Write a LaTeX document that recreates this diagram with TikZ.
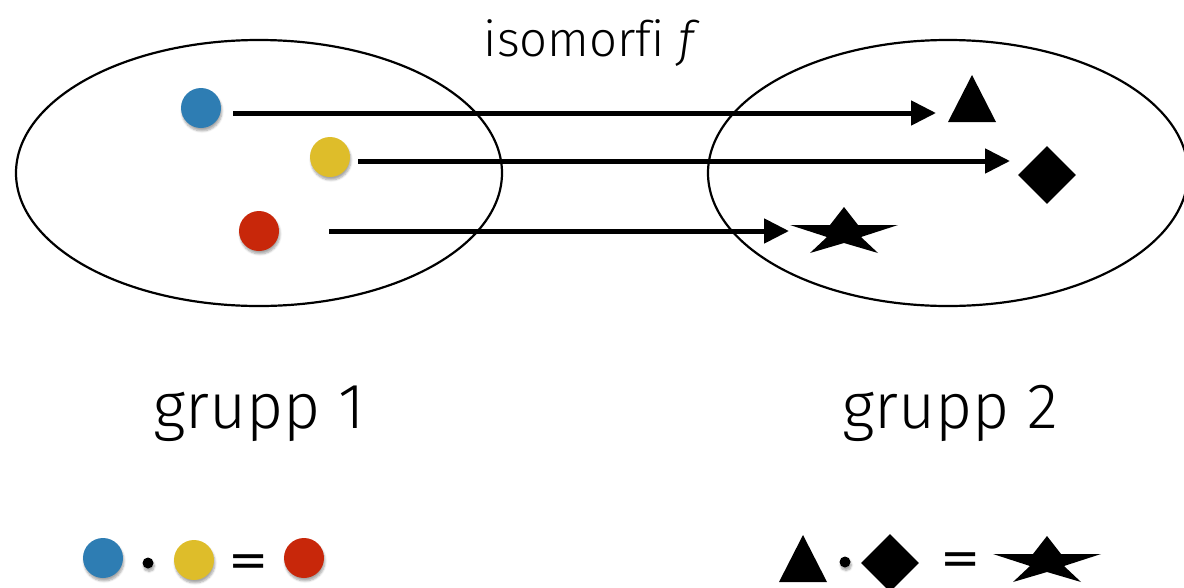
\documentclass[tikz,border=0pt]{standalone}
\usepackage{fontspec}
\setmainfont{Fira Sans}[UprightFont=* Light, ItalicFont=* Light Italic, Ligatures=NoCommon]
\newfontfamily\eqfont{DejaVu Sans}
\usetikzlibrary{arrows.meta,shapes.geometric,shadows.blur}
\definecolor{dblue}{HTML}{2E7DB3}
\definecolor{dyellow}{HTML}{DEBD2A}
\definecolor{dred}{HTML}{C8270A}
\begin{document}
\begin{tikzpicture}[x=1pt,y=-1pt,
  dot/.style={circle,fill=#1,minimum size=40pt,inner sep=0pt,
    blur shadow={shadow xshift=1pt,shadow yshift=-3pt,shadow blur steps=6,shadow opacity=35}},
  smalldot/.style={circle,fill=black,minimum size=11pt,inner sep=0pt,
    blur shadow={shadow xshift=1pt,shadow yshift=-3pt,shadow blur steps=6,shadow opacity=35}},
  arr/.style={line width=5pt,-{Triangle[length=25pt,width=24pt]}},
  grp/.style={draw,line width=2.2pt},
  dia/.style={diamond,fill=black,inner sep=0pt,minimum width=58pt,minimum height=58pt},
  lbl/.style={font=\fontsize{64}{70}\selectfont,anchor=base},
  eq/.style={font=\eqfont\fontsize{48}{54}\selectfont,inner sep=0pt},
  tri/.pic={\fill (0,0) -- (24,47) -- (-24,47) -- cycle;},
  starpic/.pic={\fill (0,0) -- (14,18) -- (54,18) -- (17,30) -- (34,46) -- (0,36)
      -- (-34,46) -- (-17,30) -- (-54,18) -- (-14,18) -- cycle;}
]
\useasboundingbox (0,0) rectangle (1184,587);

% groups
\draw[grp] (259,173) ellipse [x radius=243, y radius=133];
\draw[grp] (948,173) ellipse [x radius=240, y radius=133];

% title
\node[font=\fontsize{49}{54}\selectfont,anchor=base] (title) at (592,56) {isomorfi \textit{f}};

% group 1 elements
\node[dot=dblue]   (b1) at (201,108) {};
\node[dot=dyellow] (y1) at (330,157) {};
\node[dot=dred]    (r1) at (259,231) {};

% group 2 elements
\pic at (972,75) {tri};
\node[dia] (d2) at (1047,175) {};
\pic at (844,207) {starpic};

% arrows
\coordinate (a1s) at (233,113);
\coordinate (a1e) at (936,113);
\coordinate (a2s) at (358,161);
\coordinate (a2e) at (1010,161);
\coordinate (a3s) at (329,231);
\coordinate (a3e) at (789,231);
\draw[arr] (a1s) -- (a1e);
\draw[arr] (a2s) -- (a2e);
\draw[arr] (a3s) -- (a3e);

% labels
\node[lbl] (g1) at (259,428) {grupp 1};
\node[lbl] (g2) at (950,428) {grupp 2};

% bottom left equation
\node[dot=dblue]   (eb) at (103,558) {};
\node[smalldot]    (ed) at (148,563) {};
\node[dot=dyellow] (ey) at (194,560) {};
\node[eq]          (eq1) at (249,566) {=};
\node[dot=dred]    (er) at (304,558) {};

% bottom right equation
\pic at (803,535) {tri};
\node[smalldot]    (fd) at (845,562) {};
\node[dia]         (fdia) at (890,563) {};
\node[eq]          (eq2) at (961,564) {=};
\pic at (1047,536) {starpic};
\end{tikzpicture}
\end{document}
